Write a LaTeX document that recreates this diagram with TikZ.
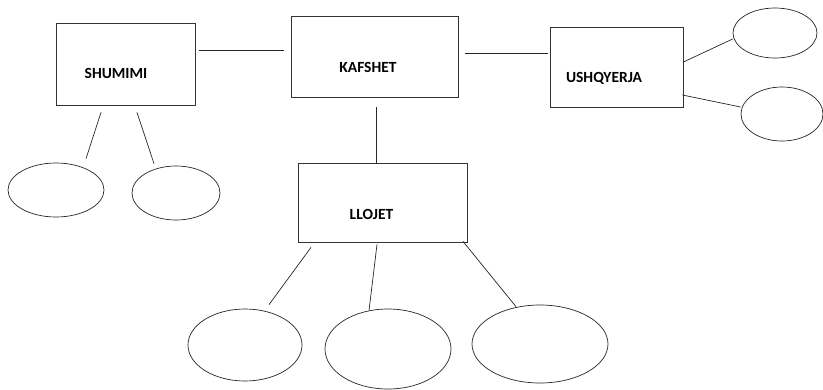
\documentclass[tikz,border=0pt]{standalone}
\usepackage{fontspec}
\setmainfont{Carlito}
\usepackage{tikz}
\usetikzlibrary{calc,shapes.geometric}
\tikzset{entity box/.style={draw=black!80, line width=0.8pt, rectangle, inner sep=0pt},
     entity label/.style={font=\fontsize{15.5}{17}\selectfont\bfseries},
     attr oval/.style={draw=black!85, line width=0.7pt, ellipse, inner sep=0pt},
     link/.style={draw=black!85, line width=0.7pt}
     }
\def\Entity#1#2#3#4#5#6#7{%
 \node[entity box, minimum width=#4, minimum height=#5,
   label={[entity label, shift={#7}]center:#6}] (#1) at (#2,#3) {};
}
\def\Attr#1#2#3#4#5{%
 \node[attr oval, minimum width=#4, minimum height=#5] (#1) at (#2,#3) {};
}

\begin{document}
\begin{tikzpicture}[x=1pt, y=-1pt]
\useasboundingbox (0,0) rectangle (823,389);
\Entity{Shumimi}{125.5}{64}{139pt}{82pt}{SHUMIMI}{(-9.5pt,-9.5pt)}
\Entity{Kafshet}{374.5}{56.5}{167pt}{81pt}{KAFSHET}{(-6.5pt,-11pt)}
\Entity{Ushqyerja}{616.5}{67}{133pt}{80pt}{USHQYERJA}{(-12.5pt,-11pt)}
\Entity{Llojet}{382.5}{202.5}{169pt}{79pt}{LLOJET}{(-11pt,-12pt)}
% attributes
\Attr{ShumA}{56}{190}{96pt}{54pt}
\Attr{ShumB}{176}{193}{88pt}{54pt}
\Attr{UshA}{775}{33}{84pt}{50pt}
\Attr{UshB}{782}{114}{82pt}{54pt}
\Attr{LlojA}{245}{345}{114pt}{72pt}
\Attr{LlojB}{388}{349}{126pt}{80pt}
\Attr{LlojC}{540}{344}{136pt}{78pt}
% links
\draw[link] ([shift={(4,28)}]Shumimi.north east) -- ([shift={(-7,35)}]Kafshet.north west);
\draw[link] ([shift={(7,38)}]Kafshet.north east) -- ([shift={(-2,27)}]Ushqyerja.north west);
\draw[link] ([shift={(1.5,10)}]Kafshet.south) -- ([shift={(-6.5,0)}]Llojet.north);
\draw[link] ([shift={(-24.5,7)}]Shumimi.south) -- ([shift={(30,-4)}]ShumA.north);
\draw[link] ([shift={(11.5,7)}]Shumimi.south) -- ([shift={(-22,-2)}]ShumB.north);
\draw[link] ([shift={(0,-5)}]Ushqyerja.east) -- ([shift={(0,6)}]UshA.west);
\draw[link] ([shift={(-1,28)}]Ushqyerja.east) -- ([shift={(0,-7)}]UshB.west);
\draw[link] ([shift={(-71.5,5)}]Llojet.south) -- ([shift={(24,-4)}]LlojA.north);
\draw[link] ([shift={(-5.5,2)}]Llojet.south) -- ([shift={(-19,2)}]LlojB.north);
\draw[link] ([shift={(80.5,-1)}]Llojet.south) -- ([shift={(-24,2)}]LlojC.north);
\end{tikzpicture}
\end{document}
